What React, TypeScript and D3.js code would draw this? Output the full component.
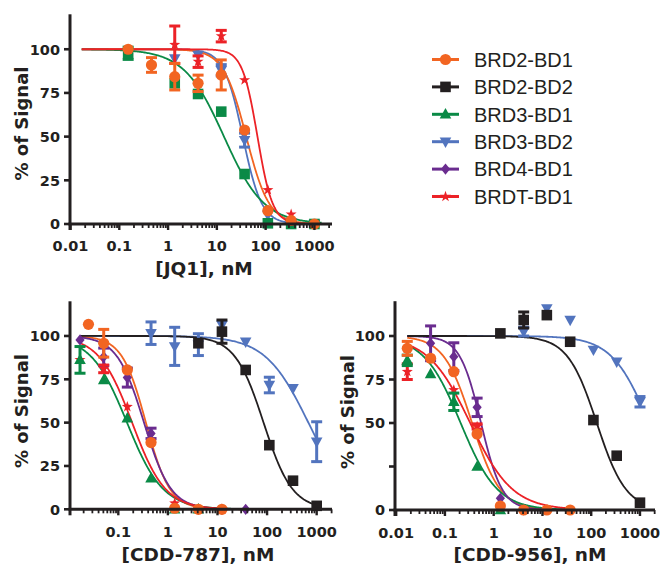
import React, { useEffect } from "react";
import * as d3 from "d3";

// ---------- data ----------
const SERIES = ["BRD2-BD1", "BRD2-BD2", "BRD3-BD1", "BRD3-BD2", "BRD4-BD1", "BRDT-BD1"];
const COLORS = ["#F26522", "#231F20", "#0A8A46", "#5274BE", "#6A2C8F", "#EC2227"];
const SHAPES = ["circle", "square", "triangle", "triangleDown", "diamond", "star"];

const CONC9 = [0.152, 0.457, 1.37, 4.12, 12.3, 37, 111, 333, 1000];
const CONC11 = [0.0169, 0.0508, 0.152, 0.457, 1.37, 4.12, 12.3, 37, 111, 333, 1000];
const CONC787_BRD2BD1 = [0.025, 0.0508, 0.152, 0.457, 1.37, 4.12, 12.3];

const Y_TICKS = [0, 25, 50, 75, 100];
const Y_LABELS_A = [0, 25, 50, 75, 100];
const Y_LABELS_B = [0, 50, 75, 100];
const X_LABELS_A = [0.01, 0.1, 1, 10, 100, 1000];
const X_LABELS_B = [0.1, 1, 10, 100, 1000];

// JQ1
const JQ1_BRD2BD1 = [100, 91, 84.3, 80.5, 85.3, 53.8, 7.6, 2, 0];
const JQ1_BRD2BD1_ERR = [0, 4.2, 7.6, 4.7, 8.6, 0, 0, 0, 0];
const JQ1_BRD3BD1 = [97.7, null, 80.5, 74.4, 64.3, 28.6, 0.4, 0, 0];
const JQ1_BRD3BD1_ERR = [3.5, 0, 0, 0, 0, 0, 0, 0, 0];
const JQ1_BRD3BD2 = [null, null, 94.8, 96.7, 88, 48, 5.2, 1, 0];
const JQ1_BRD3BD2_ERR = [0, 0, 0, 0, 3.2, 4, 0, 0, 0];
const JQ1_BRDTBD1 = [null, null, 102.6, 92.9, 107.5, 82.4, 19.5, 5.5, null];
const JQ1_BRDTBD1_ERR = [0, 0, 10.7, 3.3, 3.3, 0, 0, 0, 0];
const JQ1_IC50 = [40, null, 14, 34, null, 68];
const JQ1_HILL = [1.85, null, 1.06, 2.24, null, 2.8];
const JQ1_FIT_RANGE = [0.017, 1400];

// CDD-787
const C787_BRD2BD1 = [106.7, 95.8, 80.4, 38.5, 0.6, 0, 0];
const C787_BRD2BD1_ERR = [0, 8, 0, 0, 0, 0, 0];
const C787_BRD2BD2 = [null, null, null, null, null, 95.8, 102.5, 80.4, 37, 16.5, 2];
const C787_BRD2BD2_ERR = [0, 0, 0, 0, 0, 0, 6.7, 0, 0, 0, 0];
const C787_BRD3BD1 = [86.2, 74.6, 52.5, 17.9, 0, 0];
const C787_BRD3BD1_ERR = [7.7, 0, 0, 0, 0, 0];
const C787_BRD3BD2 = [null, null, null, 101.6, 94, 95, 106.3, 96.7, 71.7, 69.8, 39];
const C787_BRD3BD2_ERR = [0, 0, 0, 6.5, 11, 6.3, 0, 0, 4.5, 0, 11.5];
const C787_BRD4BD1 = [97.7, 88, 76, 43.8, 2, 0, 0, 0];
const C787_BRD4BD1_ERR = [0, 5, 5.5, 3, 0, 0, 0, 0];
const C787_BRDTBD1 = [86.2, 81, 59.2, null, 3.5, 0, 0];
const C787_BRDTBD1_ERR = [0, 2.2, 0, 0, 0, 0, 0];
const C787_IC50 = [0.36, 85, 0.15, 680, 0.33, 0.19];
const C787_HILL = [1.8, 1.5, 1.2, 1.0, 1.6, 1.3];

// CDD-956
const C956_BRD2BD1 = [92.9, 87.2, 79.5, 43.7, 2.3, 0, 0, 0];
const C956_BRD2BD1_ERR = [4, 0, 0, 0, 0, 0, 0, 0];
const C956_BRD2BD2 = [null, null, null, null, 101.5, 109.2, 112, 96.7, 51.7, 31.2, 4.2];
const C956_BRD2BD2_ERR = [0, 0, 0, 0, 0, 4.6, 0, 0, 0, 0, 0];
const C956_BRD3BD1 = [86, 78.2, 62.2, 24.9, 0];
const C956_BRD3BD1_ERR = [3, 0, 5, 0, 0];
const C956_BRD3BD2 = [null, null, null, null, null, 102.5, 115.9, 109.2, 92, 85.2, 62.2];
const C956_BRD3BD2_ERR = [0, 0, 0, 0, 0, 2.5, 0, 0, 0, 0, 3];
const C956_BRD4BD1 = [null, 95.8, 88.1, 59, 6.7, 0];
const C956_BRD4BD1_ERR = [0, 10, 8, 5.3, 0, 0];
const C956_BRDTBD1 = [79.5, null, 69, 48];
const C956_BRDTBD1_ERR = [4.5, 0, 0, 1.5];
const C956_IC50 = [0.36, 130, 0.21, 1550, 0.55, 0.33];
const C956_HILL = [1.5, 1.45, 1.15, 1.13, 2.0, 1.0];

const FIT_RANGE_LOW = [0.0169, 37];
const FIT_RANGE_FULL = [0.0169, 1000];

// ---------- helpers ----------
type Pts = { s: number; conc: number[]; vals: (number | null)[]; err: number[]; shape?: string };

function shapePath(shape: string): string {
  const p = d3.path();
  if (shape === "circle") {
    p.arc(0, 0, 5.6, 0, Math.PI * 2);
  } else if (shape === "square") {
    p.rect(-5.3, -5.3, 10.6, 10.6);
  } else if (shape === "triangle") {
    p.moveTo(0, -6.2); p.lineTo(5.8, 4.2); p.lineTo(-5.8, 4.2); p.closePath();
  } else if (shape === "triangleDown") {
    p.moveTo(0, 6.2); p.lineTo(5.8, -4.2); p.lineTo(-5.8, -4.2); p.closePath();
  } else if (shape === "diamond") {
    p.moveTo(0, -5.6); p.lineTo(4.6, 0); p.lineTo(0, 5.6); p.lineTo(-4.6, 0); p.closePath();
  } else {
    for (let i = 0; i < 10; i++) {
      const r = i % 2 === 0 ? 5.8 : 2.3;
      const a = -Math.PI / 2 + (i * Math.PI) / 5;
      if (i === 0) p.moveTo(r * Math.cos(a), r * Math.sin(a));
      else p.lineTo(r * Math.cos(a), r * Math.sin(a));
    }
    p.closePath();
  }
  return p.toString();
}

const AXIS_FONT = "'DejaVu Sans', Verdana, sans-serif";
const INK = "#231F20";

type PanelProps = {
  xDomain: [number, number];
  xRange: [number, number];
  yRange: [number, number];
  axisLeft: number;
  pts: Pts[];
  ic50: (number | null)[];
  hill: (number | null)[];
  fitRanges: number[][];
  curveOrder: number[];
  xLabels: number[];
  yLabels: number[];
  xTitle: string;
  xTitleX: number;
  xTitleY: number;
  yTitleX: number;
  yTitleY: number;
  xLabelDy: number;
};

function Panel(props: PanelProps) {
  const x = d3.scaleLog().domain(props.xDomain).range(props.xRange);
  const y = d3.scaleLinear().domain([0, 120]).range(props.yRange);
  const y0 = y(0);
  const ax = props.axisLeft;
  const [xmin, xmax] = props.xDomain;
  const decades: number[] = [];
  const minors: number[] = [];
  for (let e = -3; e <= 4; e++) {
    const d = Math.pow(10, e);
    if (d >= xmin * 0.97 && d <= xmax) decades.push(d);
    for (let m = 2; m <= 9; m++) {
      const v = m * d;
      if (v >= xmin && v <= xmax) minors.push(v);
    }
  }
  const line = d3
    .line<number>()
    .x((v) => x(v))
    .y((v, i) => 0);

  const curves = props.curveOrder
    .filter((s) => props.ic50[s] != null)
    .map((s) => {
      const c = props.ic50[s] as number;
      const h = props.hill[s] as number;
      const [a, b] = props.fitRanges[s];
      const xs = d3.range(0, 241).map((i) => Math.pow(10, Math.log10(a) + (i / 240) * (Math.log10(b) - Math.log10(a))));
      const gen = d3
        .line<number>()
        .x((v) => x(v))
        .y((v) => y(100 / (1 + Math.pow(v / c, h))));
      return <path key={"c" + s} d={gen(xs) || ""} fill="none" stroke={COLORS[s]} strokeWidth={1.8} />;
    });

  const marks = props.pts.map((ser, k) => {
    const col = COLORS[ser.s];
    const d = shapePath(ser.shape || SHAPES[ser.s]);
    return (
      <g key={"m" + k}>
        {ser.vals.map((v, i) => {
          if (v == null) return null;
          const cx = x(ser.conc[i]);
          const cy = y(v);
          const e = ser.err[i] || 0;
          return (
            <g key={i}>
              {e > 0 && (
                <g stroke={col} strokeWidth={3} fill="none">
                  <line x1={cx} x2={cx} y1={y(v - e)} y2={y(v + e)} />
                  <line x1={cx - 5.5} x2={cx + 5.5} y1={y(v - e)} y2={y(v - e)} />
                  <line x1={cx - 5.5} x2={cx + 5.5} y1={y(v + e)} y2={y(v + e)} />
                </g>
              )}
              <path d={d} transform={`translate(${cx},${cy})`} fill={col} />
            </g>
          );
        })}
      </g>
    );
  });

  return (
    <g>
      {curves}
      {marks}
      {/* axes */}
      <line x1={ax} x2={ax} y1={y(120)} y2={y0 + 6} stroke={INK} strokeWidth={3} />
      <line x1={ax - 1.5} x2={props.xRange[1]} y1={y0} y2={y0} stroke={INK} strokeWidth={3} />
      {Y_TICKS.map((t) => (
        <line key={"yt" + t} x1={ax - 6} x2={ax} y1={y(t)} y2={y(t)} stroke={INK} strokeWidth={2.6} />
      ))}
      {decades.map((t) => (
        <line key={"xt" + t} x1={x(t)} x2={x(t)} y1={y0} y2={y0 + 6} stroke={INK} strokeWidth={2.4} />
      ))}
      {minors.map((t) => (
        <line key={"xm" + t} x1={x(t)} x2={x(t)} y1={y0} y2={y0 + 4} stroke={INK} strokeWidth={1.8} />
      ))}
      <g fontFamily={AXIS_FONT} fontWeight="bold" fontSize={14.5} fill={INK}>
        {props.yLabels.map((t) => (
          <text key={"yl" + t} x={ax - 10} y={y(t)} dy={5.3} textAnchor="end">
            {t}
          </text>
        ))}
        {props.xLabels.map((t) => (
          <text key={"xl" + t} x={x(t)} y={y0 + props.xLabelDy} textAnchor="middle">
            {String(t)}
          </text>
        ))}
      </g>
      <g fontFamily={AXIS_FONT} fontWeight="bold" fontSize={18.5} fill={INK}>
        <text x={props.xTitleX} y={props.xTitleY} textAnchor="middle">
          {props.xTitle}
        </text>
        <text
          transform={`translate(${props.yTitleX},${props.yTitleY}) rotate(-90)`}
          textAnchor="middle"
          fontSize={18}
        >
          % of Signal
        </text>
      </g>
    </g>
  );
}

function Legend() {
  const x0 = 432;
  const x1 = 459;
  const yTop = 59.5;
  const step = 27.4;
  return (
    <g>
      {SERIES.map((name, i) => {
        const yy = yTop + i * step;
        return (
          <g key={name}>
            <line x1={x0} x2={x1} y1={yy} y2={yy} stroke={COLORS[i]} strokeWidth={3} />
            <path d={shapePath(SHAPES[i])} transform={`translate(${(x0 + x1) / 2},${yy})`} fill={COLORS[i]} />
            <text
              x={474}
              y={yy + 7.2}
              fontFamily="'Liberation Sans', Arial, sans-serif"
              fontSize={20}
              fill={INK}
            >
              {name}
            </text>
          </g>
        );
      })}
    </g>
  );
}

export default function App() {
  useEffect(() => {
    document.body.style.margin = "0";
  }, []);

  const curveOrder = [3, 0, 2, 4, 5, 1];

  const jq1Pts: Pts[] = [
    { s: 3, conc: CONC9, vals: JQ1_BRD3BD2, err: JQ1_BRD3BD2_ERR },
    { s: 5, conc: CONC9, vals: JQ1_BRDTBD1, err: JQ1_BRDTBD1_ERR },
    { s: 2, conc: CONC9, vals: JQ1_BRD3BD1, err: JQ1_BRD3BD1_ERR, shape: "square" },
    { s: 0, conc: CONC9, vals: JQ1_BRD2BD1, err: JQ1_BRD2BD1_ERR },
  ];
  const c787Pts: Pts[] = [
    { s: 3, conc: CONC11, vals: C787_BRD3BD2, err: C787_BRD3BD2_ERR },
    { s: 4, conc: CONC11, vals: C787_BRD4BD1, err: C787_BRD4BD1_ERR },
    { s: 5, conc: CONC11, vals: C787_BRDTBD1, err: C787_BRDTBD1_ERR },
    { s: 2, conc: CONC11, vals: C787_BRD3BD1, err: C787_BRD3BD1_ERR },
    { s: 1, conc: CONC11, vals: C787_BRD2BD2, err: C787_BRD2BD2_ERR },
    { s: 0, conc: CONC787_BRD2BD1, vals: C787_BRD2BD1, err: C787_BRD2BD1_ERR },
  ];
  const c956Pts: Pts[] = [
    { s: 3, conc: CONC11, vals: C956_BRD3BD2, err: C956_BRD3BD2_ERR },
    { s: 4, conc: CONC11, vals: C956_BRD4BD1, err: C956_BRD4BD1_ERR },
    { s: 5, conc: CONC11, vals: C956_BRDTBD1, err: C956_BRDTBD1_ERR },
    { s: 2, conc: CONC11, vals: C956_BRD3BD1, err: C956_BRD3BD1_ERR },
    { s: 1, conc: CONC11, vals: C956_BRD2BD2, err: C956_BRD2BD2_ERR },
    { s: 0, conc: CONC11, vals: C956_BRD2BD1, err: C956_BRD2BD1_ERR },
  ];
  const jq1Ranges = SERIES.map(() => JQ1_FIT_RANGE);
  const lowRanges = SERIES.map((_, i) => (i === 1 || i === 3 ? FIT_RANGE_FULL : FIT_RANGE_LOW));

  return (
    <div style={{ position: "absolute", left: 0, top: 0 }}>
      <svg width={662} height={570} viewBox="0 0 662 570" style={{ display: "block", background: "#fff" }}>
        <Panel
          xDomain={[0.01, Math.pow(10, 3.36)]}
          xRange={[70.5, 332]}
          yRange={[224, 14.3]}
          axisLeft={70}
          pts={jq1Pts}
          ic50={JQ1_IC50}
          hill={JQ1_HILL}
          fitRanges={jq1Ranges}
          curveOrder={curveOrder}
          xLabels={X_LABELS_A}
          yLabels={Y_LABELS_A}
          xTitle="[JQ1], nM"
          xTitleX={204}
          xTitleY={275}
          yTitleX={28}
          yTitleY={123.5}
          xLabelDy={26.5}
        />
        <Panel
          xDomain={[Math.pow(10, -1.974), Math.pow(10, 3.309)]}
          xRange={[70, 332]}
          yRange={[509.3, 301.3]}
          axisLeft={70}
          pts={c787Pts}
          ic50={C787_IC50}
          hill={C787_HILL}
          fitRanges={lowRanges}
          curveOrder={curveOrder}
          xLabels={X_LABELS_B}
          yLabels={Y_LABELS_A}
          xTitle="[CDD-787], nM"
          xTitleX={198}
          xTitleY={561}
          yTitleX={28}
          yTitleY={411}
          xLabelDy={27.5}
        />
        <Panel
          xDomain={[Math.pow(10, -2.024), Math.pow(10, 3.308)]}
          xRange={[395, 655]}
          yRange={[510, 301.2]}
          axisLeft={395}
          pts={c956Pts}
          ic50={C956_IC50}
          hill={C956_HILL}
          fitRanges={lowRanges}
          curveOrder={curveOrder}
          xLabels={X_LABELS_A}
          yLabels={Y_LABELS_B}
          xTitle="[CDD-956], nM"
          xTitleX={530}
          xTitleY={561}
          yTitleX={354}
          yTitleY={412}
          xLabelDy={27.5}
        />
        <Legend />
      </svg>
    </div>
  );
}
